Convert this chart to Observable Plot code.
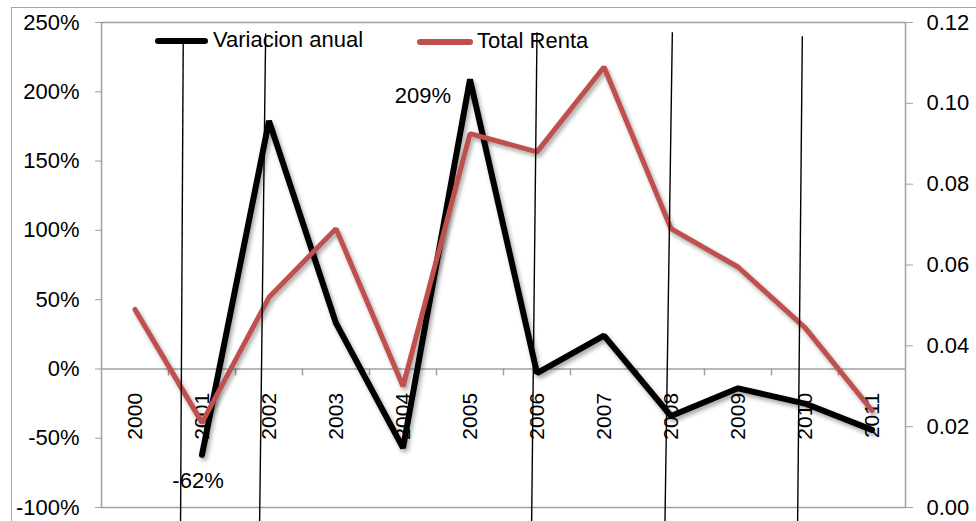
<!DOCTYPE html>
<html><head><meta charset="utf-8">
<script src="https://cdn.jsdelivr.net/npm/d3@7"></script>
<script src="https://cdn.jsdelivr.net/npm/@observablehq/plot@0.6"></script>
<style>
body{margin:0;background:#fff;overflow:hidden;}
#wrap{position:relative;width:976px;height:521px;font-family:"Liberation Sans",Arial,sans-serif;color:#000;}
#border{position:absolute;left:11px;top:7px;width:1000px;height:600px;border:1.5px solid #a6a6a6;box-sizing:border-box;pointer-events:none;}
#chart{position:absolute;left:0;top:0;}
.leg{position:absolute;font-size:22px;line-height:22px;white-space:nowrap;}
.seg{position:absolute;height:6px;border-radius:3px;}
</style></head>
<body>
<div id="wrap">
  <div id="border"></div>
  <div id="chart"></div>
</div>
<script>
const years = [2000,2001,2002,2003,2004,2005,2006,2007,2008,2009,2010,2011];
const variacion = [null,-62,179,33,-57,209,-3,24,-34,-14,-25,-44];
const renta = [0.049,0.021,0.052,0.069,0.030,0.0925,0.088,0.109,0.069,0.0595,0.0445,0.024];
const leftTicks = [-100,-50,0,50,100,150,200,250];
const rightTicks = [0,0.02,0.04,0.06,0.08,0.10,0.12];
const seriesNames = ["Variacion anual","Total Renta"];
const seriesColors = ["#000000","#c0504d"];
const labels = [{year:2005, value:209, text:"209%"},{year:2001, value:-62, text:"-62%"}];
// hand-drawn thin lines (year position, left-axis value)
const strokes = [
  {x1:2000.72, y1:238, x2:2000.68, y2:-110},
  {x1:2001.95, y1:242, x2:2001.86, y2:-110},
  {x1:2006.00, y1:243, x2:2005.92, y2:-110},
  {x1:2008.02, y1:243, x2:2007.91, y2:-110},
  {x1:2009.96, y1:240, x2:2009.89, y2:-110}
];

const toLeft = v => v / 0.12 * 350 - 100;
const fromLeft = y => (y + 100) / 350 * 0.12;

const rows = years.map((y,i) => ({year:y, v:variacion[i], r:toLeft(renta[i])}));
const bounds = years.slice(1).map(y => y - 0.5);

const plot = Plot.plot({
  width: 976, height: 521,
  marginLeft: 101, marginRight: 71, marginTop: 22, marginBottom: 14,
  x: {domain:[1999.5, 2011.5], axis: null},
  y: {domain:[-100, 250], axis: null},
  style: {fontFamily:'"Liberation Sans", Arial, sans-serif', fontSize:"22px", color:"#000", background:"transparent", overflow:"visible"},
  marks: [
    Plot.frame({stroke:"#a0a0a0", strokeWidth:1.5}),
    Plot.ruleY([0], {stroke:"#a0a0a0", strokeWidth:1.5}),
    Plot.ruleX(bounds, {y1:0, y2:-5, stroke:"#a0a0a0", strokeWidth:1.5}),
    Plot.axisY(leftTicks, {anchor:"left", tickSize:6, tickPadding:16, stroke:"#a0a0a0", tickFormat:d => d + "%", label:null, fontSize:22}),
    Plot.axisY(rightTicks.map(toLeft), {anchor:"right", tickSize:7, tickPadding:14, stroke:"#a0a0a0", tickFormat:d => d3.format(".2f")(fromLeft(d)), label:null, fontSize:22}),
    Plot.text(years, {x:d => d, y:0, text:d => String(d), rotate:-90, textAnchor:"end", dy:24, fontSize:21, fill:"#000"}),
    Plot.line(rows, {x:"year", y:"v", stroke:seriesColors[0], strokeWidth:6, strokeLinejoin:"miter", strokeLinecap:"round"}),
    Plot.line(rows, {x:"year", y:"r", stroke:seriesColors[1], strokeWidth:5, strokeLinejoin:"miter", strokeLinecap:"round"}),
    Plot.text([labels[0]], {x:"year", y:"value", text:"text", textAnchor:"end", dx:-19, dy:17, fontSize:22, fill:"#000"}),
    Plot.text([labels[1]], {x:"year", y:"value", text:"text", textAnchor:"middle", dx:-4, dy:26, fontSize:22, fill:"#000"}),
    Plot.link(strokes, {x1:"x1", y1:"y1", x2:"x2", y2:"y2", stroke:"#000", strokeWidth:1.4})
  ]
});
plot.querySelectorAll('g[aria-label="line"] path').forEach(p => {
  p.style.filter = "drop-shadow(2px 3px 2px rgba(0,0,0,0.35))";
});
document.getElementById("chart").appendChild(plot);

// legend overlay (inside plot area, like the reference)
const wrap = document.getElementById("wrap");
const legPos = [{segX:155, segW:53, textX:213, y:41}, {segX:417, segW:56, textX:477, y:42}];
seriesNames.forEach((name, i) => {
  const seg = document.createElement("div");
  seg.className = "seg";
  seg.style.left = legPos[i].segX + "px";
  seg.style.width = legPos[i].segW + "px";
  seg.style.top = (legPos[i].y - 3) + "px";
  seg.style.background = seriesColors[i];
  const t = document.createElement("div");
  t.className = "leg";
  t.style.left = legPos[i].textX + "px";
  t.style.top = (legPos[i].y - 12) + "px";
  t.textContent = name;
  wrap.insertBefore(seg, document.getElementById("chart"));
  wrap.insertBefore(t, document.getElementById("chart"));
});
</script>
</body></html>
